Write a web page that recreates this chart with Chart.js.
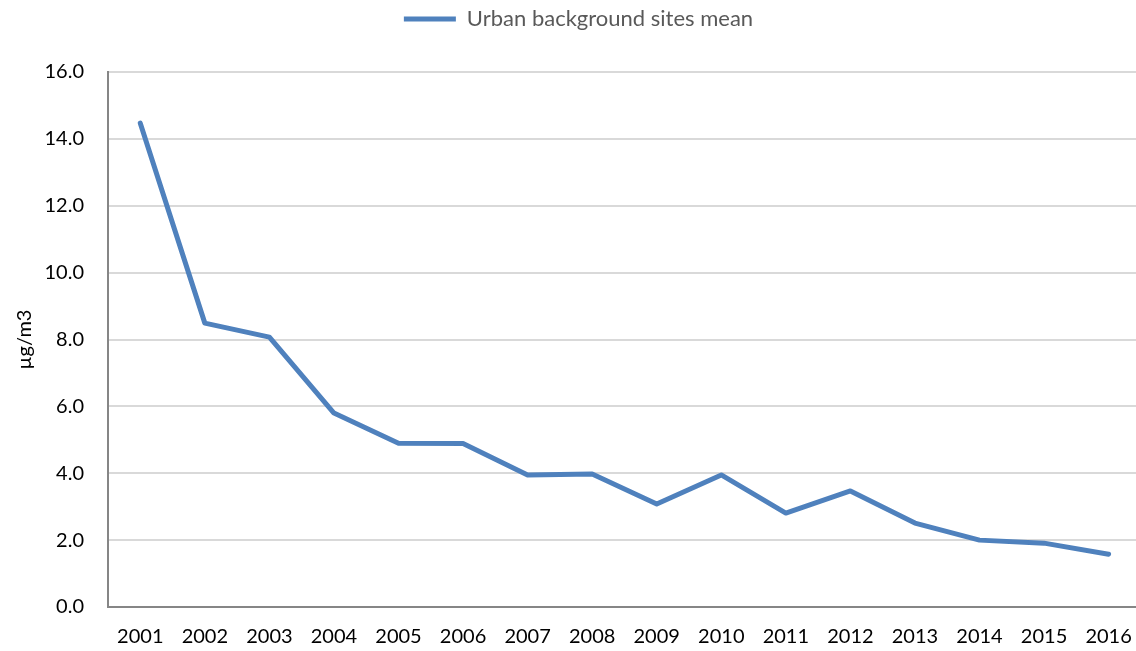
<!DOCTYPE html>
<html lang="en">
<head>
  <meta charset="UTF-8">
  <title>Urban background sites mean</title>
  <script src="https://cdn.jsdelivr.net/npm/chart.js"></script>
  <style>
    html, body { margin: 0; padding: 0; background: #fff; overflow: hidden; }
    #wrap { width: 1150px; height: 651px; position: relative; }
  </style>
</head>
<body>
  <div id="wrap"><canvas id="chart"></canvas></div>

  <script>
    const years = ['2001', '2002', '2003', '2004', '2005', '2006', '2007', '2008',
                   '2009', '2010', '2011', '2012', '2013', '2014', '2015', '2016'];
    const urbanMean = [14.47, 8.49, 8.07, 5.80, 4.90, 4.89, 3.95, 3.98,
                       3.08, 3.95, 2.81, 3.47, 2.51, 2.00, 1.91, 1.58];
    const seriesLabel = 'Urban background sites mean';
    const yTitle = 'µg/m3';

    const fontFamily = 'Lato, "Open Sans", sans-serif';

    // push the plot area down below the legend
    const legendGap = {
      id: 'legendGap',
      beforeInit(chart) {
        const fit = chart.legend.fit;
        chart.legend.fit = function () {
          fit.call(this);
          this.height += 32;
        };
      }
    };

    new Chart(document.getElementById('chart').getContext('2d'), {
      type: 'line',
      data: {
        labels: years,
        datasets: [{
          label: seriesLabel,
          data: urbanMean,
          borderColor: '#4f81bd',
          backgroundColor: '#4f81bd',
          borderWidth: 5,
          borderCapStyle: 'round',
          borderJoinStyle: 'round',
          pointRadius: 0,
          pointHoverRadius: 0,
          pointStyle: 'line',
          tension: 0
        }]
      },
      options: {
        responsive: true,
        maintainAspectRatio: false,
        animation: false,
        layout: { padding: { top: 0, left: 13, right: 6, bottom: 0 } },
        plugins: {
          tooltip: { enabled: false },
          legend: {
            position: 'top',
            labels: {
              usePointStyle: true,
              pointStyleWidth: 52,
              color: '#595959',
              font: { family: fontFamily, size: 22 },
              padding: 8
            }
          }
        },
        scales: {
          x: {
            offset: true,
            grid: { display: false, drawTicks: false },
            border: { color: '#868686', width: 2 },
            ticks: { color: '#000', padding: 18, maxRotation: 0, font: { family: fontFamily, size: 20 } },
            afterFit: s => { s.height = 44; }
          },
          y: {
            min: 0,
            max: 16,
            grid: { color: '#d9d9d9', lineWidth: 2, drawTicks: false },
            border: { color: '#868686', width: 2 },
            ticks: {
              stepSize: 2,
              color: '#000',
              padding: 24,
              font: { family: fontFamily, size: 20 },
              callback: v => v.toFixed(1)
            },
            title: {
              display: true,
              text: yTitle,
              color: '#000',
              font: { family: fontFamily, size: 20 },
              padding: { top: 0, bottom: 0 }
            },
            afterFit: s => { s.width = 95; }
          }
        }
      },
      plugins: [legendGap]
    });
  </script>
</body>
</html>
